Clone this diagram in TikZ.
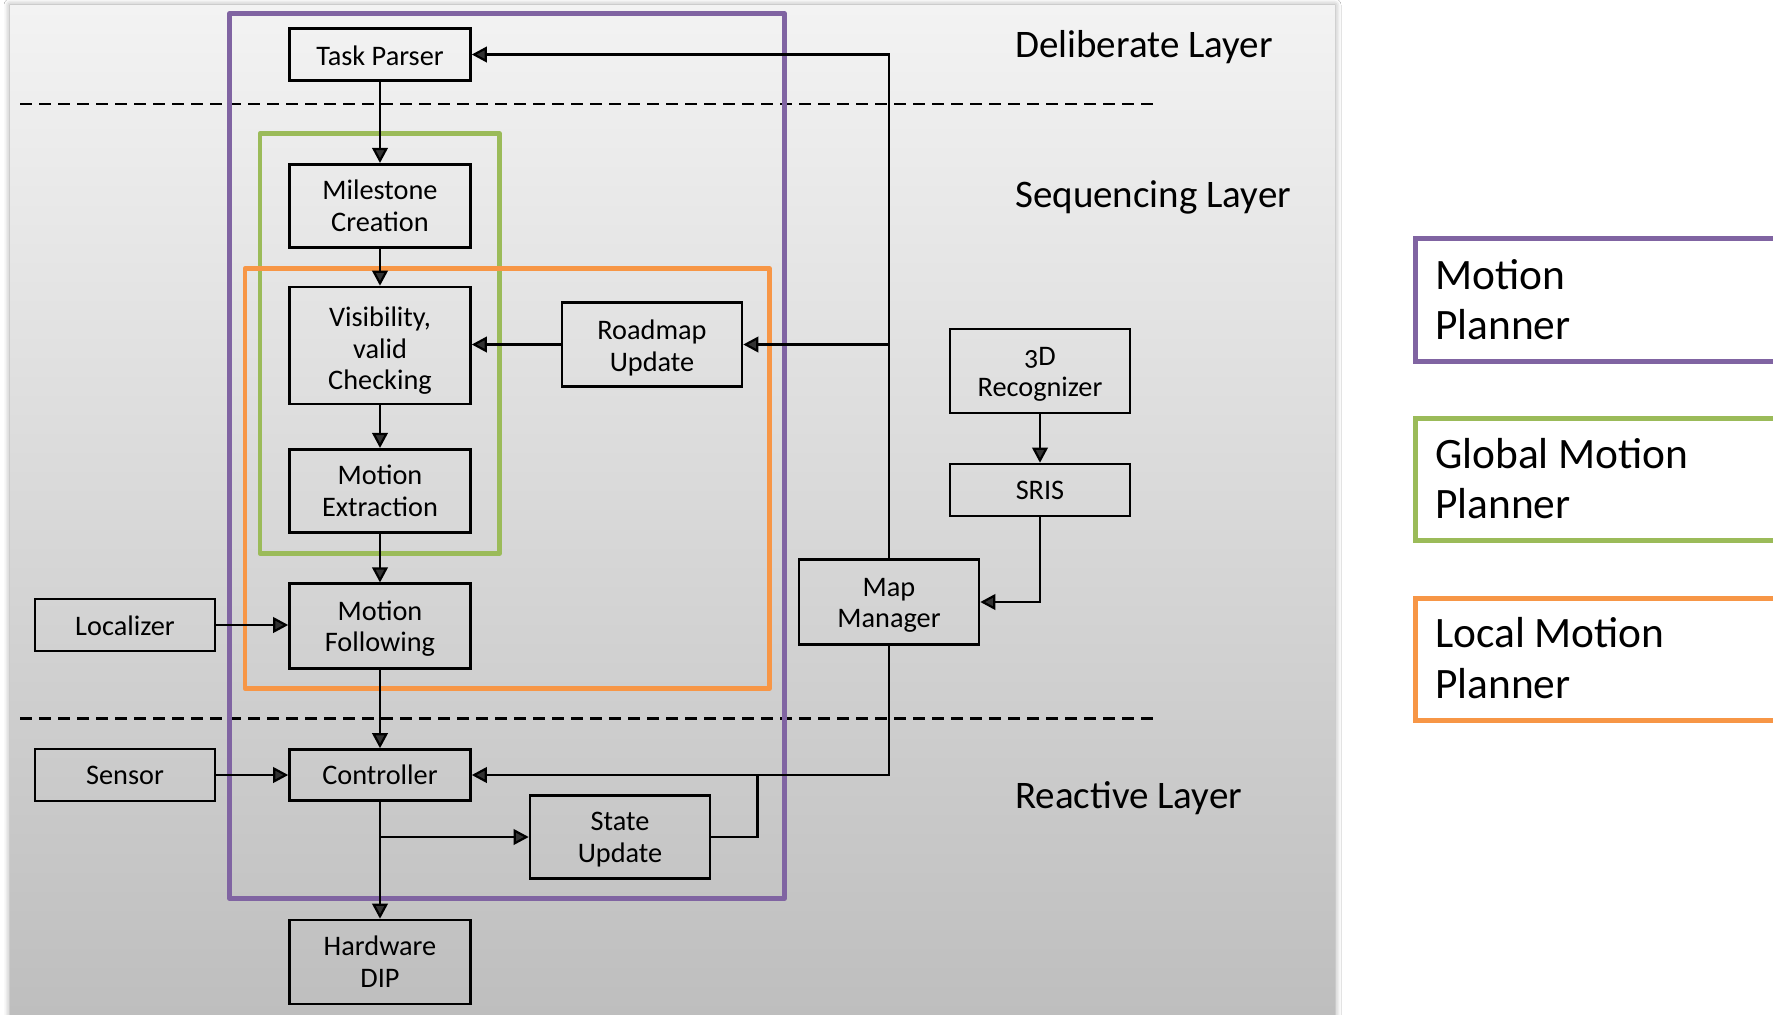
\documentclass[tikz,border=0pt]{standalone}
\usepackage{fontspec}
\setmainfont{Carlito}[Numbers=OldStyle]
\usetikzlibrary{arrows.meta,shadows.blur}

\definecolor{mpPurple}{HTML}{8064A2}
\definecolor{gmpGreen}{HTML}{9BBB59}
\definecolor{lmpOrange}{HTML}{F79646}
\definecolor{panelTop}{RGB}{243,243,243}
\definecolor{panelMid}{RGB}{223,223,223}
\definecolor{panelBot}{RGB}{190,190,190}

% invisible strut that lowers the text block of a box
\newcommand{\lowerby}[1]{\rule{0pt}{#1}}

\tikzset{
  blk/.style={draw=black, line width=2.6pt, minimum width=181pt, align=center,
    inner sep=0pt, font=\fontsize{28.3}{31.7}\selectfont},
  conn/.style={line width=2.2pt},
  arr/.style={conn, -{Triangle[length=15pt,width=15.5pt]}},
  layerline/.style={line width=2.6pt, dash pattern=on 12pt off 7pt},
  frame/.style={line width=4.5pt, line join=round},
  layerlbl/.style={anchor=base west, inner sep=0pt, font=\fontsize{39}{46}\selectfont},
  legbox/.style={line width=4.5pt, fill=white},
  legtxt/.style={anchor=base west, inner sep=0pt, font=\fontsize{43.4}{51}\selectfont},
}

\begin{document}
\begin{tikzpicture}[x=1pt,y=-1pt]
\useasboundingbox (0,0) rectangle (1773,1015);
\fill[white] (0,0) rectangle (1773,1015);

% grey panel holding the three layers
\fill[panelTop, blur shadow={shadow xshift=0pt, shadow yshift=0pt,
  shadow blur radius=6pt, shadow opacity=40}] (10,5) rectangle (1335,1040);
\shade[top color=panelTop, middle color=panelMid, bottom color=panelBot]
  (10,5) rectangle (1335,1015);

% layer separators
\draw[layerline] (20,104) -- (1159,104);
\draw[layerline] (20,718.5) -- (1159,718.5);

% planner frames
\draw[frame, mpPurple] (229.5,13.6) rectangle (784.7,898.5);
\draw[frame, gmpGreen] (260,133.5) rectangle (499.5,553.5);
\draw[frame, lmpOrange] (245,268.5) rectangle (769.5,688.5);

% blocks
\node[blk, minimum height=52pt]   (tp) at (380,54.5)  {\lowerby{22pt}Task Parser};
\node[blk, minimum height=83.5pt] (mc) at (380,206)   {Milestone\\Creation};
\node[blk, minimum height=117pt]  (vc) at (380,345.5) {\lowerby{30pt}Visibility,\\valid\\Checking};
\node[blk, minimum height=83.5pt] (me) at (380,491)   {Motion\\Extraction};
\node[blk, minimum height=84.5pt] (mf) at (380,626)   {\lowerby{25pt}Motion\\Following};
\node[blk, minimum height=51pt]   (ct) at (380,775)   {Controller};
\node[blk, minimum height=84pt]   (hw) at (380,962)   {Hardware\\DIP};
\node[blk, minimum width=180pt, minimum height=84.5pt] (ru) at (652,344.5) {\lowerby{27pt}Roadmap\\Update};
\node[blk, minimum width=180pt, minimum height=52pt]   (lo) at (125,625)   {\lowerby{21pt}Localizer};
\node[blk, minimum width=180pt, minimum height=52pt]   (se) at (125,775)   {Sensor};
\node[blk, minimum width=180pt, minimum height=83.5pt] (su) at (620,837)   {\lowerby{23pt}State\\Update};
\node[blk, minimum width=180pt, minimum height=84.5pt] (mm) at (889,602)   {\lowerby{25pt}Map\\Manager};
\node[blk, minimum width=180pt, minimum height=84pt]   (rg) at (1040,371)  {\lowerby{25pt}3D\\Recognizer};
\node[blk, minimum width=180pt, minimum height=52pt]   (sr) at (1040,490)  {\lowerby{20pt}SRIS};

\coordinate (suJoin) at (757.5,775);

% main chain
\draw[arr] (tp) -- (mc);
\draw[arr] (mc) -- (vc);
\draw[arr] (vc) -- (me);
\draw[arr] (me) -- (mf);
\draw[arr] (mf) -- (ct);
\draw[arr] (ct) -- (hw);
\draw[arr] (ct.south |- su.west) -- (su.west);
\draw[conn] (su.east) -| (suJoin);

% side inputs
\draw[arr] (lo.east) -- (lo.east -| mf.west);
\draw[arr] (se.east) -- (ct.west);
\draw[arr] (ru.west) -- (ru.west -| vc.east);

% map manager links
\draw[arr] (mm.north) |- (tp.east);
\draw[arr] (mm.north |- ru.east) -- (ru.east);
\draw[arr] (mm.south) |- (ct.east);
\draw[arr] (rg) -- (sr);
\draw[arr] (sr.south) |- (mm.east);

% layer names
\node[layerlbl] (lblDel) at (1015,57.5)  {Deliberate Layer};
\node[layerlbl] (lblSeq) at (1015,207)   {Sequencing Layer};
\node[layerlbl] (lblRea) at (1015,808.5) {Reactive Layer};

% legend
\draw[legbox, draw=mpPurple]  (1415.6,238.6) rectangle (1800,361.4);
\draw[legbox, draw=gmpGreen]  (1415.6,418.6) rectangle (1800,540.5);
\draw[legbox, draw=lmpOrange] (1415.6,598.5) rectangle (1800,720.5);
\node[legtxt] (legA1) at (1435,289.5) {Motion};
\node[legtxt] (legA2) at (1435,339.5) {Planner};
\node[legtxt] (legB1) at (1435,468.5) {Global Motion};
\node[legtxt] (legB2) at (1435,518.5) {Planner};
\node[legtxt] (legC1) at (1435,647.5) {Local Motion};
\node[legtxt] (legC2) at (1435,698.5) {Planner};
\end{tikzpicture}
\end{document}
